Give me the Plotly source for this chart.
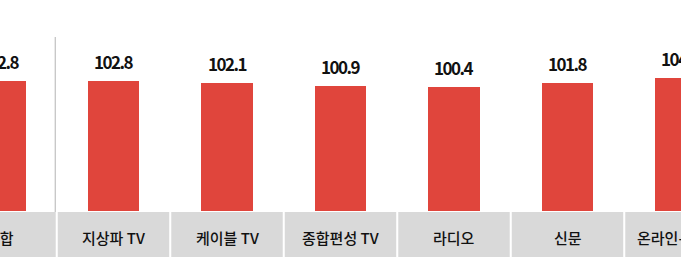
import plotly.graph_objects as go

categories = ["종합", "지상파 TV", "케이블 TV", "종합편성 TV", "라디오", "신문", "온라인-모바일"]
values = [102.8, 102.8, 102.1, 100.9, 100.4, 101.8, 104.0]
value_labels = ["102.8", "102.8", "102.1", "100.9", "100.4", "101.8", "104.0"]

W, H = 681, 259
MT, MB = 0, 48
plot_h = H - MT - MB
y0 = 50.0
k = 130 / (102.8 - y0)          # px per unit
y1 = y0 + plot_h / k

BAR = "#E0453C"
BOX = "#D9D9D9"
FONT = "Noto Sans CJK KR"

fig = go.Figure()
fig.add_trace(go.Bar(
    x=list(range(len(categories))), y=values, base=0,
    marker=dict(color=BAR, line=dict(width=0)),
    width=0.45, hoverinfo="skip",
))

def py(px):
    # pixel row -> paper coordinate
    return (H - MB - px) / plot_h

shapes = []
annotations = []
for i, (c, v, lab) in enumerate(zip(categories, values, value_labels)):
    shapes.append(dict(type="rect", xref="x", yref="paper",
                       x0=i - 0.5 + 0.009, x1=i + 0.5 - 0.009,
                       y0=py(257), y1=py(212),
                       fillcolor=BOX, line=dict(width=0), layer="below"))
    annotations.append(dict(x=i, y=py(237), xref="x", yref="paper",
                            text=c, showarrow=False, yanchor="middle",
                            font=dict(family=FONT, size=15, color="#111111", weight=500)))
    annotations.append(dict(x=i, y=v, xref="x", yref="y",
                            text=f'<span style="letter-spacing:-1.5px"><b>{lab}</b></span>',
                            showarrow=False,
                            yanchor="bottom", yshift=5,
                            font=dict(family=FONT, size=17, color="#111111")))

shapes.append(dict(type="line", xref="x", yref="paper",
                   x0=0.487, x1=0.487, y0=py(212), y1=py(37),
                   line=dict(color="#C0C0C0", width=1.2)))

fig.update_layout(
    width=W, height=H,
    margin=dict(l=0, r=0, t=MT, b=MB, pad=0),
    paper_bgcolor="white", plot_bgcolor="white",
    showlegend=False,
    xaxis=dict(range=[0, W / 113.5], showgrid=False, zeroline=False,
               showticklabels=False, ticks="", showline=False, fixedrange=True),
    yaxis=dict(range=[y0, y1], showgrid=False, zeroline=False,
               showticklabels=False, ticks="", showline=False, fixedrange=True),
    shapes=shapes, annotations=annotations,
    bargap=0,
)
fig.write_html("out.html")
